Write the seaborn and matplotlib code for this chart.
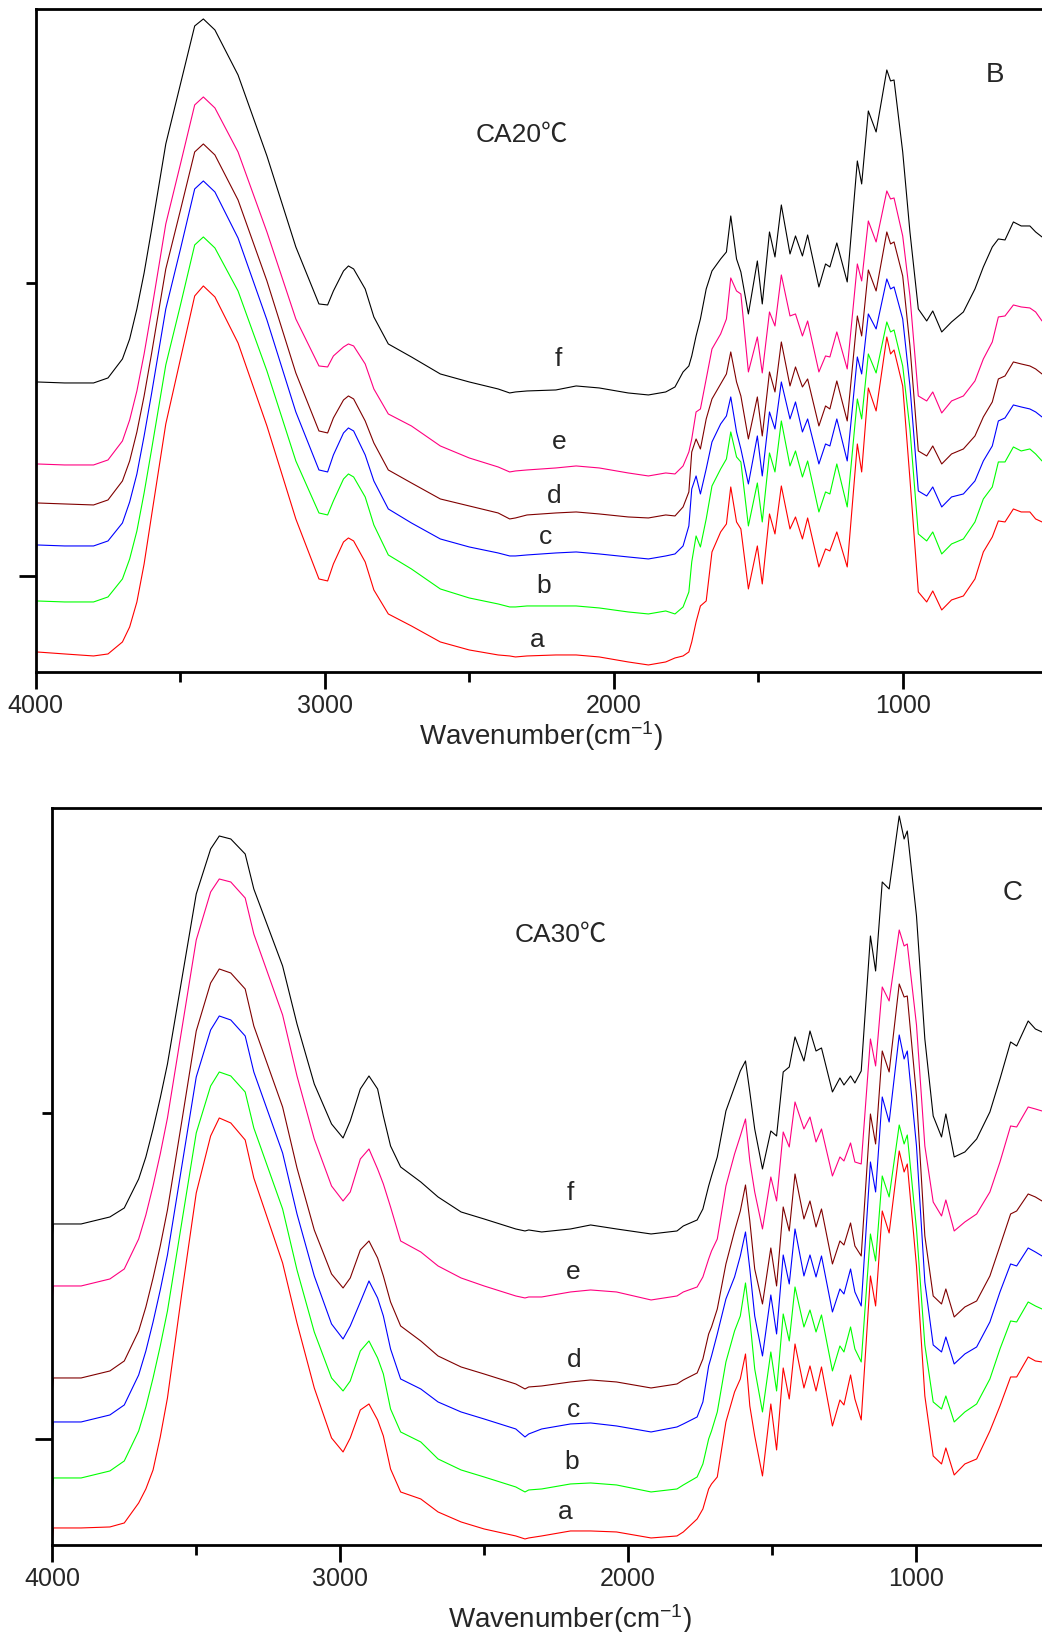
import matplotlib
matplotlib.use("Agg")
import matplotlib.pyplot as plt
import seaborn as sns
import pandas as pd

# ---- panel B (CA20) : wavenumber grid and absorbance of samples a-f ----
top_wn = [4000, 3996, 3900, 3800, 3750, 3700, 3675, 3650, 3625, 3600, 3550, 3500, 3450, 3420, 3380,
          3300, 3200, 3100, 3020, 2990, 2970, 2935, 2918, 2900, 2860, 2830, 2780, 2700, 2600, 2500,
          2400, 2360, 2340, 2300, 2200, 2130, 2050, 1950, 1880, 1820,
          1788, 1760, 1740, 1730, 1715, 1700, 1680, 1660, 1630, 1610, 1595, 1575, 1560, 1534, 1503,
          1486, 1461, 1442, 1420, 1390, 1371, 1347, 1329, 1290, 1267, 1252, 1228, 1192, 1157, 1142,
          1119, 1092, 1055, 1042, 1030, 1000, 975, 946, 917, 896, 865, 831, 790, 750, 721, 690, 669,
          646, 617, 590, 560, 540, 518]

top_f = [2.78, 2.90, 2.89, 2.89, 2.94, 3.13, 3.33, 3.63, 3.99, 4.41, 5.28, 5.87, 6.46, 6.53, 6.42,
         5.97, 5.16, 4.25, 3.68, 3.67, 3.81, 4.01, 4.06, 4.03, 3.83, 3.55, 3.28, 3.15, 2.98, 2.90,
         2.83, 2.79, 2.80, 2.81, 2.82, 2.86, 2.84, 2.79, 2.77, 2.80,
         2.85, 3.00, 3.06, 3.16, 3.36, 3.53, 3.83, 4.01, 4.13, 4.20, 4.56, 4.13, 4.00, 3.58, 4.11,
         3.68, 4.40, 4.15, 4.67, 4.18, 4.36, 4.16, 4.37, 3.85, 4.08, 4.05, 4.29, 3.90, 5.11, 4.88,
         5.61, 5.40, 6.02, 5.91, 5.92, 5.20, 4.40, 3.63, 3.51, 3.61, 3.40, 3.50, 3.60, 3.83, 4.05,
         4.25, 4.33, 4.32, 4.50, 4.46, 4.46, 4.40, 4.35]
top_e = [1.96, 2.08, 2.07, 2.07, 2.12, 2.31, 2.52, 2.81, 3.18, 3.60, 4.48, 5.07, 5.67, 5.75, 5.64,
         5.20, 4.40, 3.53, 3.06, 3.05, 3.16, 3.25, 3.28, 3.26, 3.08, 2.83, 2.58, 2.46, 2.26, 2.14,
         2.05, 2.00, 2.01, 2.02, 2.04, 2.06, 2.04, 1.99, 1.96, 1.99,
         1.98, 2.06, 2.20, 2.33, 2.60, 2.63, 2.93, 3.23, 3.38, 3.53, 3.94, 3.81, 3.78, 3.00, 3.35,
         2.99, 3.60, 3.46, 3.97, 3.56, 3.58, 3.36, 3.51, 3.00, 3.16, 3.15, 3.40, 3.03, 4.08, 3.91,
         4.51, 4.30, 4.81, 4.73, 4.74, 4.36, 3.76, 2.76, 2.71, 2.80, 2.59, 2.71, 2.76, 2.91, 3.13,
         3.30, 3.55, 3.56, 3.67, 3.65, 3.64, 3.60, 3.51]
top_d = [1.57, 1.69, 1.68, 1.67, 1.72, 1.91, 2.11, 2.40, 2.76, 3.17, 4.03, 4.61, 5.20, 5.28, 5.17,
         4.72, 3.91, 2.99, 2.41, 2.39, 2.54, 2.72, 2.76, 2.73, 2.51, 2.29, 2.02, 1.89, 1.73, 1.66,
         1.59, 1.53, 1.54, 1.57, 1.59, 1.60, 1.58, 1.55, 1.54, 1.57,
         1.56, 1.65, 1.80, 2.20, 2.33, 2.23, 2.53, 2.73, 2.88, 2.98, 3.20, 2.90, 2.76, 2.33, 2.75,
         2.36, 3.00, 2.80, 3.30, 2.86, 3.05, 2.85, 2.93, 2.46, 2.66, 2.63, 2.91, 2.51, 3.56, 3.36,
         4.02, 3.81, 4.40, 4.28, 4.30, 3.96, 3.26, 2.21, 2.16, 2.26, 2.08, 2.18, 2.23, 2.36, 2.55,
         2.70, 2.93, 2.96, 3.10, 3.08, 3.06, 3.03, 2.98]
top_c = [1.15, 1.27, 1.26, 1.26, 1.31, 1.49, 1.70, 1.98, 2.36, 2.77, 3.63, 4.22, 4.83, 4.91, 4.80,
         4.34, 3.52, 2.60, 2.02, 2.00, 2.17, 2.39, 2.44, 2.41, 2.17, 1.91, 1.63, 1.49, 1.33, 1.25,
         1.19, 1.16, 1.16, 1.17, 1.19, 1.20, 1.18, 1.15, 1.13, 1.16,
         1.18, 1.26, 1.46, 1.83, 1.96, 1.78, 2.03, 2.30, 2.48, 2.56, 2.75, 2.40, 2.23, 1.88, 2.36,
         1.96, 2.60, 2.43, 2.90, 2.53, 2.70, 2.40, 2.53, 2.08, 2.28, 2.26, 2.53, 2.11, 3.15, 2.98,
         3.58, 3.43, 3.93, 3.83, 3.85, 3.53, 2.86, 1.81, 1.76, 1.85, 1.65, 1.75, 1.78, 1.91, 2.11,
         2.26, 2.51, 2.54, 2.67, 2.65, 2.63, 2.60, 2.55]
top_b = [0.59, 0.71, 0.70, 0.70, 0.75, 0.93, 1.13, 1.41, 1.79, 2.21, 3.07, 3.66, 4.27, 4.35, 4.24,
         3.81, 3.01, 2.11, 1.59, 1.57, 1.71, 1.93, 1.98, 1.95, 1.75, 1.47, 1.17, 1.03, 0.83, 0.74,
         0.68, 0.65, 0.65, 0.66, 0.66, 0.66, 0.64, 0.60, 0.58, 0.61,
         0.58, 0.65, 0.80, 1.10, 1.36, 1.25, 1.53, 1.86, 2.03, 2.13, 2.40, 2.15, 2.10, 1.46, 1.89,
         1.50, 2.19, 2.00, 2.51, 2.06, 2.21, 1.95, 2.11, 1.60, 1.80, 1.78, 2.08, 1.65, 2.73, 2.53,
         3.18, 2.99, 3.50, 3.40, 3.42, 3.06, 2.43, 1.38, 1.31, 1.40, 1.18, 1.28, 1.33, 1.50, 1.73,
         1.85, 2.10, 2.10, 2.25, 2.21, 2.23, 2.18, 2.11]
top_a = [0.08, 0.20, 0.18, 0.16, 0.18, 0.30, 0.45, 0.70, 1.08, 1.55, 2.48, 3.12, 3.76, 3.86, 3.75,
         3.29, 2.46, 1.53, 0.93, 0.91, 1.08, 1.30, 1.34, 1.31, 1.10, 0.82, 0.58, 0.46, 0.30, 0.22,
         0.17, 0.16, 0.15, 0.16, 0.17, 0.17, 0.15, 0.10, 0.07, 0.10,
         0.14, 0.16, 0.20, 0.30, 0.50, 0.66, 0.71, 1.20, 1.40, 1.48, 1.85, 1.50, 1.43, 0.83, 1.26,
         0.88, 1.58, 1.38, 1.86, 1.43, 1.55, 1.33, 1.54, 1.05, 1.23, 1.21, 1.40, 1.05, 2.28, 2.00,
         2.84, 2.61, 3.35, 3.18, 3.22, 2.86, 1.93, 0.80, 0.70, 0.81, 0.62, 0.72, 0.76, 0.93, 1.20,
         1.35, 1.51, 1.50, 1.63, 1.60, 1.60, 1.53, 1.50]

# ---- panel C (CA30) ----
bot_wn = [4000, 3996, 3900, 3800, 3750, 3700, 3675, 3650, 3625, 3600, 3550, 3500, 3450, 3420, 3380,
          3330, 3300, 3200, 3150, 3090, 3030, 2990, 2965, 2930, 2900, 2870, 2850, 2825, 2790, 2720,
          2660, 2580, 2500, 2390, 2358, 2345, 2300, 2200, 2130, 2040, 1920, 1830,
          1808, 1760, 1740, 1720, 1710, 1690, 1660, 1630, 1610, 1592, 1577, 1560, 1533, 1504, 1484,
          1461, 1440, 1420, 1389, 1368, 1347, 1328, 1290, 1264, 1250, 1227, 1212, 1190, 1158, 1140,
          1117, 1093, 1058, 1041, 1030, 998, 969, 940, 911, 896, 867, 830, 789, 743, 708, 671, 650,
          610, 585, 562]

bot_f = [3.09, 3.21, 3.21, 3.28, 3.37, 3.66, 3.88, 4.16, 4.47, 4.81, 5.66, 6.51, 6.96, 7.09, 7.06,
         6.91, 6.56, 5.79, 5.21, 4.61, 4.21, 4.07, 4.24, 4.56, 4.69, 4.56, 4.29, 3.99, 3.78, 3.63,
         3.48, 3.33, 3.26, 3.16, 3.14, 3.15, 3.13, 3.16, 3.20, 3.16, 3.11, 3.14,
         3.19, 3.25, 3.36, 3.59, 3.69, 3.88, 4.34, 4.58, 4.74, 4.84, 4.53, 4.16, 3.76, 4.14, 4.09,
         4.73, 4.78, 5.08, 4.84, 5.14, 4.94, 4.97, 4.53, 4.67, 4.60, 4.69, 4.62, 4.74, 6.09, 5.74,
         6.63, 6.56, 7.29, 7.06, 7.14, 6.29, 5.06, 4.29, 4.08, 4.31, 3.88, 3.93, 4.06, 4.33, 4.66,
         5.03, 4.99, 5.24, 5.16, 5.13]
bot_e = [2.47, 2.59, 2.59, 2.66, 2.76, 3.06, 3.30, 3.59, 3.91, 4.27, 5.16, 6.05, 6.53, 6.66, 6.63,
         6.47, 6.11, 5.30, 4.69, 4.06, 3.59, 3.44, 3.53, 3.86, 3.96, 3.76, 3.61, 3.38, 3.04, 2.93,
         2.79, 2.67, 2.59, 2.49, 2.47, 2.48, 2.48, 2.53, 2.55, 2.53, 2.45, 2.49,
         2.53, 2.58, 2.68, 2.86, 2.94, 3.06, 3.59, 3.91, 4.09, 4.26, 3.84, 3.53, 3.16, 3.68, 3.44,
         4.13, 3.98, 4.43, 4.16, 4.28, 4.03, 4.16, 3.69, 3.88, 3.84, 4.02, 3.83, 3.81, 5.06, 4.79,
         5.58, 5.44, 6.15, 5.99, 6.01, 5.20, 3.99, 3.43, 3.29, 3.45, 3.14, 3.23, 3.31, 3.53, 3.83,
         4.19, 4.18, 4.38, 4.36, 4.34]
bot_d = [1.55, 1.67, 1.67, 1.74, 1.84, 2.14, 2.38, 2.67, 2.99, 3.35, 4.24, 5.14, 5.62, 5.76, 5.72,
         5.56, 5.19, 4.38, 3.77, 3.15, 2.71, 2.57, 2.67, 2.95, 3.04, 2.87, 2.69, 2.43, 2.19, 2.04,
         1.89, 1.78, 1.71, 1.61, 1.56, 1.58, 1.59, 1.63, 1.65, 1.63, 1.57, 1.61,
         1.65, 1.72, 1.86, 2.11, 2.18, 2.36, 2.81, 3.14, 3.34, 3.60, 3.24, 2.76, 2.41, 2.97, 2.59,
         3.38, 3.14, 3.71, 3.26, 3.44, 3.18, 3.36, 2.81, 3.04, 3.00, 3.22, 2.99, 2.89, 4.31, 4.01,
         4.94, 4.73, 5.61, 5.48, 5.49, 4.49, 3.09, 2.49, 2.41, 2.56, 2.28, 2.38, 2.44, 2.69, 2.99,
         3.31, 3.34, 3.51, 3.48, 3.44]
bot_c = [1.11, 1.23, 1.23, 1.30, 1.40, 1.70, 1.94, 2.23, 2.55, 2.90, 3.79, 4.68, 5.15, 5.29, 5.25,
         5.09, 4.73, 3.92, 3.31, 2.69, 2.21, 2.06, 2.19, 2.43, 2.64, 2.47, 2.29, 1.96, 1.66, 1.56,
         1.43, 1.33, 1.26, 1.16, 1.08, 1.11, 1.16, 1.21, 1.22, 1.19, 1.13, 1.18,
         1.21, 1.28, 1.43, 1.79, 1.89, 2.11, 2.46, 2.68, 2.89, 3.13, 2.76, 2.29, 1.89, 2.50, 2.11,
         2.90, 2.61, 3.16, 2.69, 2.90, 2.68, 2.89, 2.33, 2.56, 2.51, 2.76, 2.53, 2.39, 3.83, 3.53,
         4.48, 4.23, 5.10, 4.86, 4.94, 3.99, 2.63, 2.00, 1.93, 2.08, 1.81, 1.91, 1.98, 2.23, 2.53,
         2.81, 2.79, 2.97, 2.93, 2.89]
bot_b = [0.55, 0.67, 0.67, 0.74, 0.84, 1.14, 1.38, 1.67, 1.99, 2.34, 3.23, 4.12, 4.59, 4.73, 4.69,
         4.53, 4.17, 3.36, 2.75, 2.13, 1.67, 1.54, 1.64, 1.94, 2.04, 1.87, 1.71, 1.36, 1.13, 1.03,
         0.86, 0.75, 0.68, 0.58, 0.53, 0.55, 0.56, 0.61, 0.62, 0.60, 0.53, 0.56,
         0.60, 0.68, 0.81, 1.06, 1.14, 1.33, 1.83, 2.14, 2.29, 2.62, 2.26, 1.76, 1.33, 1.93, 1.54,
         2.31, 2.04, 2.58, 2.18, 2.35, 2.13, 2.30, 1.74, 1.99, 1.93, 2.18, 1.96, 1.83, 3.11, 2.84,
         3.69, 3.48, 4.20, 4.01, 4.10, 3.16, 2.00, 1.43, 1.36, 1.49, 1.23, 1.33, 1.41, 1.66, 1.96,
         2.24, 2.23, 2.43, 2.39, 2.36]
bot_a = [0.05, 0.17, 0.17, 0.18, 0.22, 0.42, 0.56, 0.75, 1.08, 1.47, 2.52, 3.52, 4.09, 4.27, 4.22,
         4.05, 3.67, 2.82, 2.22, 1.57, 1.07, 0.93, 1.07, 1.35, 1.41, 1.25, 1.09, 0.76, 0.53, 0.46,
         0.33, 0.23, 0.16, 0.09, 0.06, 0.07, 0.09, 0.14, 0.14, 0.13, 0.07, 0.09,
         0.13, 0.26, 0.36, 0.56, 0.61, 0.68, 1.23, 1.53, 1.66, 1.91, 1.39, 1.09, 0.69, 1.41, 0.95,
         1.77, 1.46, 2.01, 1.57, 1.79, 1.54, 1.78, 1.19, 1.45, 1.40, 1.70, 1.46, 1.25, 2.69, 2.39,
         3.34, 3.12, 3.94, 3.73, 3.81, 2.79, 1.49, 0.89, 0.81, 0.97, 0.70, 0.81, 0.86, 1.14, 1.39,
         1.68, 1.68, 1.88, 1.84, 1.83]

samples = ["a", "b", "c", "d", "e", "f"]
colors = ["#FF0000", "#00FF00", "#0000FF", "#800000", "#FF0080", "#000000"]

top_lab_pos = {"a": (2265, 0.33), "b": (2243, 0.87), "c": (2237, 1.36),
               "d": (2207, 1.77), "e": (2190, 2.31), "f": (2190, 3.14)}
bot_lab_pos = {"a": (2219, 0.34), "b": (2195, 0.84), "c": (2191, 1.36),
               "d": (2188, 1.86), "e": (2191, 2.74), "f": (2202, 3.53)}


def long_df(wn, curves):
    rows = []
    for s, vals in zip(samples, curves):
        rows.append(pd.DataFrame({"wn": wn, "abs": vals, "sample": s}))
    return pd.concat(rows, ignore_index=True)


sns.set_style("ticks")
plt.rcParams["font.family"] = ["Liberation Sans", "Noto Sans CJK SC", "DejaVu Sans"]
plt.rcParams["mathtext.default"] = "regular"

fig = plt.figure(figsize=(10.42, 16.33), dpi=100)
ax1 = fig.add_axes([0.0343, 0.5879, 0.9657, 0.4060])
ax2 = fig.add_axes([0.0502, 0.0533, 0.9498, 0.4513])

panels = [
    (ax1, top_wn, [top_a, top_b, top_c, top_d, top_e, top_f], (4000, 518), (0, 6.63),
     (0.96, 3.89), top_lab_pos, "CA20℃", (2317, 5.38), "B", (681, 5.98), (0.502, -0.109)),
    (ax2, bot_wn, [bot_a, bot_b, bot_c, bot_d, bot_e, bot_f], (4000, 562), (0, 7.37),
     (1.06, 4.32), bot_lab_pos, "CA30℃", (2233, 6.11), "C", (663, 6.53), (0.523, -0.111)),
]

for ax, wn, curves, xl, yl, yt, labpos, title, tpos, letter, lpos, xlab in panels:
    df = long_df(wn, curves)
    sns.lineplot(data=df, x="wn", y="abs", hue="sample", palette=colors, ax=ax,
                 estimator=None, sort=False, linewidth=0.8, legend=False)
    ax.set_xlim(*xl)
    ax.set_ylim(*yl)
    ax.set_xticks([4000, 3000, 2000, 1000])
    ax.set_xticks([3500, 2500, 1500], minor=True)
    ax.set_yticks([yt[0]])
    ax.set_yticks([yt[1]], minor=True)
    ax.set_yticklabels([])
    ax.tick_params(which="major", direction="out", length=12, width=2, labelsize=18,
                   pad=3, color="black")
    ax.tick_params(which="minor", direction="out", length=7, width=2, color="black")
    ax.spines["right"].set_visible(False)
    for sp in ["left", "top", "bottom"]:
        ax.spines[sp].set_linewidth(2)
        ax.spines[sp].set_color("black")
    ax.set_ylabel("")
    ax.set_xlabel("Wavenumber(cm$^{-1}$)", fontsize=20)
    ax.xaxis.label.set_va("baseline")
    ax.xaxis.set_label_coords(*xlab)
    for s in samples:
        ax.text(*labpos[s], s, fontsize=19, ha="center", va="center")
    ax.text(*tpos, title, fontsize=19, ha="center", va="center")
    ax.text(*lpos, letter, fontsize=20, ha="center", va="center")

fig.savefig("out.png", dpi=100)
